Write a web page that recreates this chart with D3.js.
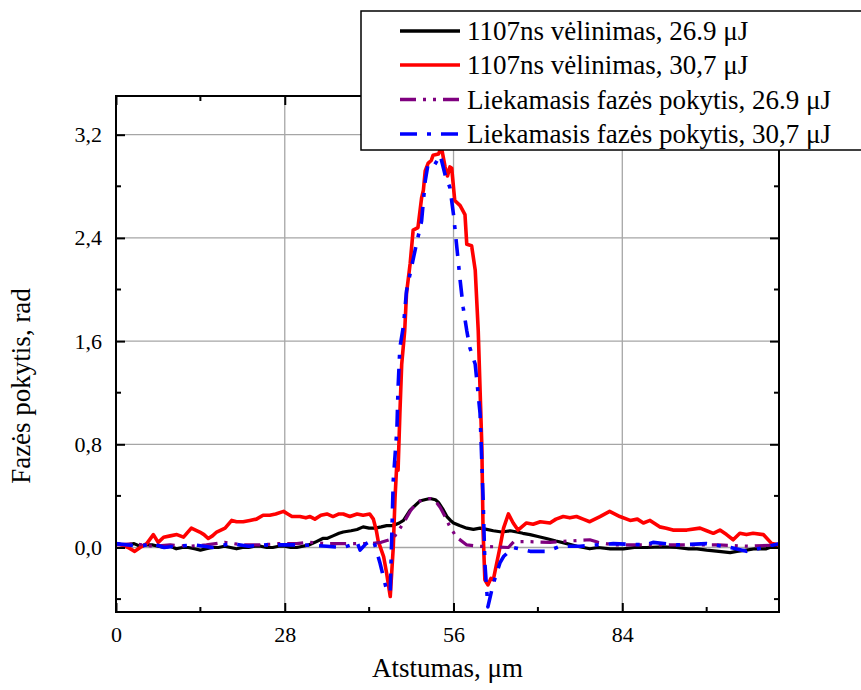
<!DOCTYPE html>
<html>
<head>
<meta charset="utf-8">
<script src="https://cdn.jsdelivr.net/npm/d3@7"></script>
<style>
	body { margin: 0; background: #fff; }
	text { font-family: "Liberation Serif", "Times New Roman", serif; fill: #000; }
</style>
</head>
<body>
<div id="chart"></div>
<script>
	//
	// Data (x in µm, y in rad)
	//
	let delay_26_9 = [[0,0.03],[1,0.02],[2,0.02],[3,0.03],[4,0.01],[5,0.02],[6,0.02],[7,0.01],[8,0.0],[9,0.01],[10,-0.01],[11,0.0],[12,0.0],[13,-0.01],[14,-0.02],[15,-0.01],[16,0.0],[17,0.0],[18,0.01],[19,0.0],[20,-0.01],[21,0.0],[22,0.0],[23,0.01],[24,0.01],[25,0.0],[26,0.0],[27,0.01],[28,0.01],[29,0.0],[30,0.0],[31,0.01],[32,0.02],[33,0.04],[34.3,0.07],[35,0.07],[36,0.09],[37,0.11],[37.7,0.12],[39,0.13],[40,0.14],[41,0.16],[42,0.15],[43,0.15],[44,0.16],[44.9,0.17],[46,0.17],[47,0.19],[47.7,0.21],[48.8,0.29],[49.5,0.32],[50.4,0.36],[51.2,0.37],[52.1,0.38],[53,0.37],[53.5,0.35],[54.2,0.30],[54.9,0.24],[55.5,0.21],[56,0.19],[57,0.17],[58.2,0.15],[59.3,0.14],[60.4,0.15],[61.5,0.14],[62.6,0.13],[64,0.12],[65.4,0.13],[66.5,0.12],[67.5,0.11],[68.7,0.10],[70,0.085],[71.4,0.07],[73,0.05],[74.8,0.03],[76.5,0.01],[78.6,-0.01],[80,0.0],[82,-0.01],[84.2,-0.01],[86,0.0],[88,0.0],[90.8,0.005],[93,0.0],[95,-0.01],[96.4,-0.01],[98,-0.02],[100,-0.03],[101.9,-0.04],[103,-0.03],[104.6,-0.02],[106,-0.01],[107.9,-0.01],[109,0.01],[110,0.02]];

	let delay_30_7 = [[0,0.03],[1,0.02],[2,0.0],[3.1,-0.03],[4,0.0],[5.1,0.03],[6.2,0.10],[7,0.04],[7.9,0.08],[9,0.09],[10.1,0.10],[11.2,0.08],[12.5,0.15],[13.9,0.12],[14.6,0.10],[15.3,0.07],[16,0.09],[16.7,0.12],[18.1,0.15],[19.2,0.21],[20,0.20],[21.1,0.20],[22.2,0.21],[23.3,0.22],[24.4,0.25],[25.5,0.25],[26.5,0.26],[27.8,0.28],[28.5,0.26],[29.2,0.24],[30.5,0.24],[31.5,0.23],[32.2,0.24],[33,0.22],[34,0.25],[35,0.26],[36,0.24],[37,0.26],[37.7,0.26],[38.8,0.24],[40,0.26],[41,0.25],[42.1,0.26],[42.7,0.22],[43.2,0.13],[43.5,0.05],[44.4,-0.07],[44.9,-0.2],[45.5,-0.38],[46,0.0],[46.3,0.39],[46.6,0.66],[46.8,0.6],[47.1,1.04],[47.4,1.42],[47.9,1.68],[48.2,1.97],[48.8,2.20],[49.3,2.46],[50.1,2.48],[50.7,2.71],[51,2.77],[51.3,2.92],[51.8,2.98],[52.3,3.0],[52.6,3.04],[53.5,3.05],[54,3.1],[54.6,2.95],[55,2.88],[55.4,2.95],[55.7,2.94],[56.2,2.69],[57.1,2.65],[57.9,2.58],[58.2,2.35],[59,2.34],[59.6,2.15],[60.1,1.68],[60.7,0.78],[60.9,0.13],[61.2,-0.25],[61.7,-0.29],[62.2,-0.24],[62.6,-0.25],[63.7,0.0],[64.3,0.15],[65.1,0.26],[65.9,0.19],[66.7,0.135],[68.1,0.19],[69.2,0.18],[70.4,0.2],[72,0.19],[73,0.22],[74.2,0.24],[75.3,0.23],[76.4,0.24],[77.5,0.22],[78.6,0.2],[80.3,0.24],[81.9,0.28],[83.6,0.24],[85.3,0.21],[86.5,0.22],[87.5,0.19],[88.6,0.21],[90.2,0.16],[91.3,0.15],[92.4,0.135],[94.7,0.135],[96.9,0.15],[98,0.13],[99.1,0.11],[100.2,0.135],[101.3,0.1],[102.4,0.06],[103.5,0.11],[104.6,0.1],[105.7,0.11],[107.4,0.10],[108.8,0.03],[110,0.02]];

	let residual_26_9 = [[0,0.02],[3,0.03],[6,0.01],[9,0.02],[12,0.01],[15,0.02],[18,0.04],[21,0.02],[24,0.02],[27,0.03],[30,0.03],[32,0.04],[35,0.03],[39,0.03],[42.1,0.03],[44,0.04],[46,0.07],[47.7,0.19],[48.8,0.28],[49.9,0.35],[51,0.37],[52.1,0.38],[53,0.36],[53.8,0.31],[54.6,0.24],[55.4,0.16],[56.5,0.08],[58.2,0.02],[60,0.01],[63.1,0.005],[65.1,0.0],[66,0.045],[68.7,0.045],[72,0.04],[75,0.05],[78.6,0.06],[80,0.04],[82.5,0.02],[86,0.02],[90,0.02],[95,0.02],[100,0.02],[105,0.01],[110,0.02]];

	let residual_30_7 = [[0,0.03],[2,0.02],[4,0.01],[6,0.03],[8,0.0],[10,0.01],[13,0.02],[16,0.0],[19,0.03],[22,0.01],[25,0.02],[28,0.02],[31,0.02],[35,0.01],[37.7,0.0],[39,0.02],[40,0.04],[40.5,-0.02],[41.5,0.03],[42.7,0.06],[43.8,-0.12],[44.9,-0.33],[45.5,-0.35],[46,0.52],[46.6,0.91],[46.8,1.24],[47.1,1.55],[47.7,1.72],[48.2,1.99],[49.6,2.30],[50.7,2.53],[51.3,2.84],[51.8,2.98],[52.9,2.97],[53.8,3.04],[54.6,2.89],[55.4,2.79],[56,2.58],[56.5,2.35],[57.1,2.07],[57.6,1.86],[58.2,1.68],[58.7,1.55],[59.6,1.42],[60.4,1.04],[60.9,0.39],[61.2,-0.12],[61.7,-0.46],[62.6,-0.28],[63.7,-0.12],[64.3,-0.07],[65.9,0.0],[68.7,-0.03],[71.4,-0.03],[73.7,0.01],[77,0.01],[82.5,0.03],[88,0.02],[89.1,0.04],[93,0.02],[98,0.03],[101.9,0.0],[104.6,-0.03],[107.4,0.0],[110,0.03]];

	let series_labels = ['1107ns vėlinimas, 26.9 μJ', '1107ns vėlinimas, 30,7 μJ', 'Liekamasis fazės pokytis, 26.9 μJ', 'Liekamasis fazės pokytis, 30,7 μJ'];
	let series_colors = ['#000000', '#ff0000', '#7f007f', '#0000ff'];
	let series_dashes = [null, null, '16,7,3,7,3,7', '17,10,4,10'];
	let series_widths = [3.2, 3.6, 3.2, 3.6];
	let series_data = [delay_26_9, delay_30_7, residual_26_9, residual_30_7];

	let x_ticks = [0, 28, 56, 84];
	let x_minor = [14, 42, 70, 98];
	let y_ticks = [0, 0.8, 1.6, 2.4, 3.2];
	let y_minor = [-0.4, 0.4, 1.2, 2.0, 2.8];

	//
	// Layout
	//
	var svg_width = 861,
		svg_height = 690;
	var plot_left = 116, plot_right = 779, plot_top = 96, plot_bottom = 612;

	var x = d3.scaleLinear().domain([0, 110]).range([plot_left, plot_right]);
	var y = d3.scaleLinear().domain([-0.5, 3.5]).range([plot_bottom, plot_top]);

	var svg = d3.select("#chart").append("svg")
		.attr("width", svg_width)
		.attr("height", svg_height);

	// grid
	var grid = svg.append("g").attr("stroke", "#a6a6a6").attr("stroke-width", 1.3);
	grid.selectAll("line.gx").data(x_ticks.slice(1))
		.enter().append("line")
		.attr("x1", d => x(d)).attr("x2", d => x(d))
		.attr("y1", plot_top).attr("y2", plot_bottom);
	grid.selectAll("line.gy").data(y_ticks)
		.enter().append("line")
		.attr("x1", plot_left).attr("x2", plot_right)
		.attr("y1", d => y(d)).attr("y2", d => y(d));

	// curves
	var line = d3.line()
		.x(d => x(d[0]))
		.y(d => y(d[1]));

	svg.append("defs").append("clipPath").attr("id", "plot-clip")
		.append("rect")
		.attr("x", plot_left).attr("y", plot_top)
		.attr("width", plot_right - plot_left).attr("height", plot_bottom - plot_top);

	svg.append("g").attr("clip-path", "url(#plot-clip)")
		.selectAll("path")
		.data(series_data)
		.enter().append("path")
		.attr("d", line)
		.attr("fill", "none")
		.attr("stroke", (d, i) => series_colors[i])
		.attr("stroke-width", (d, i) => series_widths[i])
		.attr("stroke-linejoin", "round")
		.attr("stroke-dasharray", (d, i) => series_dashes[i]);

	// axes, ticks pointing inward on all four sides
	var xAxisB = d3.axisBottom(x).tickValues(x_ticks).tickSize(-9).tickPadding(14).tickFormat(d3.format("d"));
	var xAxisT = d3.axisTop(x).tickValues(x_ticks).tickSize(-9).tickFormat("");
	var yAxisL = d3.axisLeft(y).tickValues(y_ticks).tickSize(-9).tickPadding(14)
		.tickFormat(d => d3.format(".1f")(d).replace(".", ","));
	var yAxisR = d3.axisRight(y).tickValues(y_ticks).tickSize(-9).tickFormat("");

	function styleAxis(g) {
		g.select(".domain").remove();
		g.selectAll(".tick line").attr("stroke", "#000").attr("stroke-width", 2);
		g.selectAll(".tick text")
			.style("font-family", '"Liberation Serif", "Times New Roman", serif')
			.style("font-size", "22px")
			.attr("fill", "#000");
	}

	svg.append("g").attr("transform", "translate(0," + plot_bottom + ")").call(xAxisB).call(styleAxis);
	svg.append("g").attr("transform", "translate(0," + plot_top + ")").call(xAxisT).call(styleAxis);
	svg.append("g").attr("transform", "translate(" + plot_left + ",0)").call(yAxisL).call(styleAxis);
	svg.append("g").attr("transform", "translate(" + plot_right + ",0)").call(yAxisR).call(styleAxis);

	// minor ticks
	var minor = svg.append("g").attr("stroke", "#000").attr("stroke-width", 2);
	x_minor.forEach(function(v) {
		minor.append("line").attr("x1", x(v)).attr("x2", x(v)).attr("y1", plot_bottom).attr("y2", plot_bottom - 5);
		minor.append("line").attr("x1", x(v)).attr("x2", x(v)).attr("y1", plot_top).attr("y2", plot_top + 5);
	});
	y_minor.forEach(function(v) {
		minor.append("line").attr("x1", plot_left).attr("x2", plot_left + 5).attr("y1", y(v)).attr("y2", y(v));
		minor.append("line").attr("x1", plot_right).attr("x2", plot_right - 5).attr("y1", y(v)).attr("y2", y(v));
	});

	// frame
	svg.append("rect")
		.attr("x", plot_left).attr("y", plot_top)
		.attr("width", plot_right - plot_left).attr("height", plot_bottom - plot_top)
		.attr("fill", "none")
		.attr("stroke", "#000")
		.attr("stroke-width", 2);

	// axis titles
	svg.append("text")
		.attr("x", (plot_left + plot_right) / 2).attr("y", 677)
		.attr("text-anchor", "middle")
		.style("font-size", "27px")
		.text("Atstumas, μm");

	svg.append("text")
		.attr("transform", "translate(30,386) rotate(-90)")
		.attr("text-anchor", "middle")
		.style("font-size", "27px")
		.text("Fazės pokytis, rad");

	// legend
	var legend = svg.append("g");
	legend.append("rect")
		.attr("x", 361).attr("y", 11)
		.attr("width", 520).attr("height", 139)
		.attr("fill", "#fff")
		.attr("stroke", "#000")
		.attr("stroke-width", 1.5);

	var rows = [31, 65, 99.5, 134];
	series_labels.forEach(function(label, i) {
		legend.append("line")
			.attr("x1", 400).attr("x2", 460)
			.attr("y1", rows[i]).attr("y2", rows[i])
			.attr("stroke", series_colors[i])
			.attr("stroke-width", 3.5)
			.attr("stroke-dasharray", series_dashes[i]);
		legend.append("text")
			.attr("x", 467).attr("y", rows[i] + 9)
			.style("font-size", "27px")
			.text(label);
	});
</script>
</body>
</html>
